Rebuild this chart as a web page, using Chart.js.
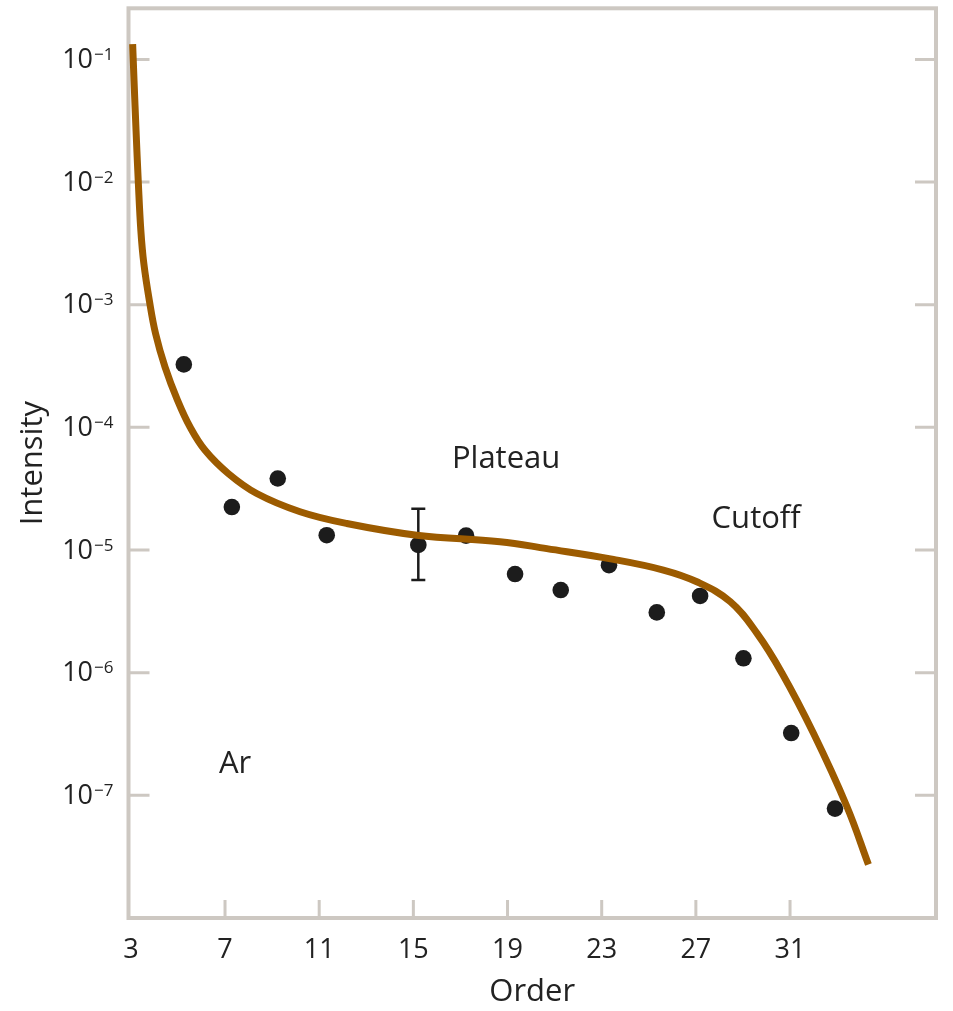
<!DOCTYPE html>
<html>
<head>
<meta charset="utf-8">
<title>Ar harmonic intensity</title>
<script src="https://cdn.jsdelivr.net/npm/chart.js@4/dist/chart.umd.min.js"></script>
<style>
  html, body { margin: 0; padding: 0; background: #ffffff; }
  #wrap { width: 953px; height: 1011px; }
</style>
</head>
<body>
<div id="wrap"><canvas id="chart" width="953" height="1011"></canvas></div>
<script>
// measured harmonic orders and intensities (dots)
const dotOrders = [5.25, 7.29, 9.24, 11.32, 15.21, 17.24, 19.32, 21.26, 23.31, 25.34, 27.18, 29.02, 31.05, 32.91];
const dotIntensity = [3.26e-4, 2.24e-5, 3.83e-5, 1.32e-5, 1.10e-5, 1.31e-5, 6.37e-6, 4.72e-6, 7.53e-6, 3.10e-6, 4.22e-6, 1.31e-6, 3.22e-7, 7.8e-8];

// error bar on the order-15 point
const errOrders = [15.21];
const errHigh = [2.17e-5];
const errLow = [5.7e-6];

// theory curve (brown)
const curveOrders = [3.076, 3.136, 3.221, 3.314, 3.425, 3.552, 3.786, 4.049, 4.453, 4.984, 5.515, 6.152, 7.142, 8.348, 10.188, 12.172, 15.145, 18.68, 20.67, 23.50, 25.62, 27.04, 28.46, 29.59, 30.66, 31.99, 33.41, 34.33];
const curveIntensity = [0.1332, 0.0666, 0.0261, 0.01023, 4.01e-3, 2.16e-3, 1.08e-3, 5.82e-4, 3.10e-4, 1.66e-4, 1.006e-4, 6.50e-5, 4.20e-5, 2.89e-5, 2.053e-5, 1.646e-5, 1.322e-5, 1.17e-5, 1.026e-5, 8.39e-6, 6.87e-6, 5.51e-6, 3.79e-6, 2.10e-6, 9.9e-7, 3.22e-7, 8.15e-8, 2.73e-8];

// axes
const xTickValues = [3, 7, 11, 15, 19, 23, 27, 31];
const yTickValues = [1e-1, 1e-2, 1e-3, 1e-4, 1e-5, 1e-6, 1e-7];
const yTickExponents = ['\u22121', '\u22122', '\u22123', '\u22124', '\u22125', '\u22126', '\u22127'];

// text labels inside the plot
const noteTexts = ['Plateau', 'Cutoff', 'Ar'];
const noteOrders = [18.94, 29.56, 7.43];
const noteIntensity = [4.63e-5, 1.50e-5, 1.53e-7];

const frameColor = '#cdc8c2';
const inkColor = '#222222';

const framePlugin = {
  id: 'frame',
  beforeDatasetsDraw(chart) {
    const { ctx, chartArea: a, scales: { x, y } } = chart;
    ctx.save();
    ctx.strokeStyle = frameColor;
    ctx.lineWidth = 3;
    ctx.beginPath();
    yTickValues.forEach(v => {
      const py = y.getPixelForValue(v);
      ctx.moveTo(a.left, py); ctx.lineTo(a.left + 21, py);
      ctx.moveTo(a.right, py); ctx.lineTo(a.right - 21, py);
    });
    xTickValues.forEach(v => {
      const px = x.getPixelForValue(v);
      if (px - a.left < 6) return; // merges with the frame
      ctx.moveTo(px, a.bottom); ctx.lineTo(px, a.bottom - 18);
    });
    ctx.stroke();
    ctx.lineWidth = 4;
    ctx.strokeRect(a.left, a.top, a.right - a.left, a.bottom - a.top);

    // error bars
    ctx.strokeStyle = '#1c1c1c';
    ctx.lineWidth = 2.5;
    errOrders.forEach((o, i) => {
      const px = x.getPixelForValue(o);
      const top = y.getPixelForValue(errHigh[i]);
      const bot = y.getPixelForValue(errLow[i]);
      ctx.beginPath();
      ctx.moveTo(px, top); ctx.lineTo(px, bot);
      ctx.moveTo(px - 7, top); ctx.lineTo(px + 7, top);
      ctx.moveTo(px - 7, bot); ctx.lineTo(px + 7, bot);
      ctx.stroke();
    });
    ctx.restore();
  },
  afterDraw(chart) {
    const { ctx, chartArea: a, scales: { x, y } } = chart;
    ctx.save();
    ctx.fillStyle = inkColor;
    ctx.textBaseline = 'alphabetic';

    // y tick labels: 10 with raised exponent
    const right = a.left - 15;
    yTickValues.forEach((v, i) => {
      const py = y.getPixelForValue(v);
      ctx.font = '17px "Open Sans"';
      ctx.textAlign = 'right';
      const expW = ctx.measureText(yTickExponents[i]).width;
      ctx.fillText(yTickExponents[i], right, py + 0.5);
      ctx.font = '27px "Open Sans"';
      ctx.fillText('10', right - expW - 1, py + 8.5);
    });

    ctx.font = '31px "Open Sans"';
    ctx.textAlign = 'center';
    noteTexts.forEach((t, i) => {
      ctx.fillText(t, x.getPixelForValue(noteOrders[i]), y.getPixelForValue(noteIntensity[i]));
    });
    ctx.restore();
  }
};

new Chart(document.getElementById('chart'), {
  type: 'scatter',
  data: {
    datasets: [
      {
        type: 'line',
        label: 'Theory',
        data: curveOrders.map((o, i) => ({ x: o, y: curveIntensity[i] })),
        borderColor: '#9c5b00',
        borderWidth: 7,
        pointRadius: 0,
        fill: false,
        tension: 0.4,
        order: 0
      },
      {
        label: 'Measured',
        data: dotOrders.map((o, i) => ({ x: o, y: dotIntensity[i] })),
        backgroundColor: '#1c1c1c',
        borderWidth: 0,
        pointRadius: 8.3,
        order: 1
      }
    ]
  },
  options: {
    responsive: false,
    animation: false,
    layout: { padding: { left: 0, top: 7, right: 17, bottom: 0 } },
    plugins: { legend: { display: false }, tooltip: { enabled: false } },
    scales: {
      x: {
        type: 'linear',
        min: 2.9,
        max: 37.2,
        afterBuildTicks: s => { s.ticks = xTickValues.map(v => ({ value: v })); },
        afterFit: s => { s.height = 93; s.paddingLeft = 0; s.paddingRight = 0; },
        grid: { display: false, drawTicks: false },
        border: { display: false },
        ticks: { color: inkColor, font: { family: 'Open Sans', size: 27 }, padding: 16, maxRotation: 0 },
        title: { display: true, text: 'Order', color: inkColor, font: { family: 'Open Sans', size: 31 }, padding: { top: 0, bottom: 0 } }
      },
      y: {
        type: 'logarithmic',
        min: 1e-8,
        max: 0.261,
        afterBuildTicks: s => { s.ticks = yTickValues.map(v => ({ value: v })); },
        afterFit: s => { s.width = 128.5; s.paddingTop = 0; s.paddingBottom = 0; },
        grid: { display: false, drawTicks: false },
        border: { display: false },
        ticks: { display: false },
        title: { display: true, text: 'Intensity', color: inkColor, font: { family: 'Open Sans', size: 31 }, padding: { top: 15, bottom: 0 } }
      }
    }
  },
  plugins: [framePlugin]
});
</script>
</body>
</html>
